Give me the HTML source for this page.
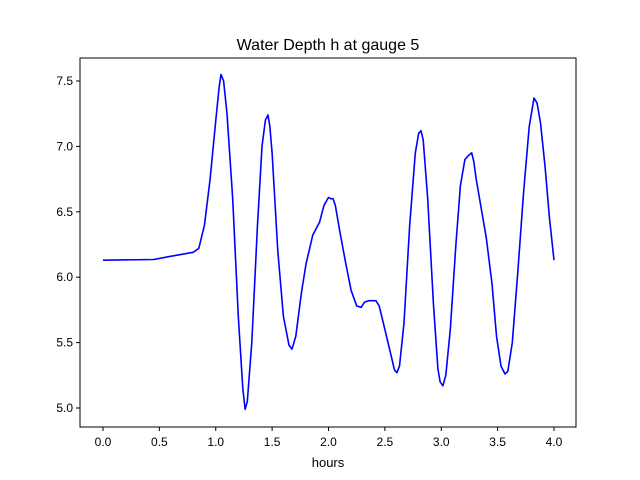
<!DOCTYPE html>
<html><head><meta charset="utf-8"><style>
body{margin:0;background:#fff;}
svg{display:block;font-family:"Liberation Sans","DejaVu Sans",sans-serif;}
</style></head><body>
<svg id="chart" width="640" height="480" viewBox="0 0 640 480">
<rect width="640" height="480" fill="#fff"/>
<text x="328" y="50" text-anchor="middle" font-size="16">Water Depth h at gauge 5</text>
<g id="plot"></g>
<rect x="80" y="58" width="496" height="369" fill="none" stroke="#000" stroke-width="1"/>
<text x="328" y="467" text-anchor="middle" font-size="13">hours</text>
</svg>
<script>
const hours=[0,0.45,0.6,0.7,0.8,0.85,0.9,0.95,1.0,1.03,1.047,1.07,1.1,1.15,1.2,1.24,1.26,1.28,1.32,1.37,1.41,1.44,1.463,1.48,1.5,1.55,1.6,1.65,1.676,1.71,1.76,1.8,1.86,1.92,1.96,2.0,2.02,2.04,2.06,2.1,2.15,2.2,2.25,2.29,2.32,2.36,2.42,2.45,2.5,2.55,2.585,2.607,2.63,2.67,2.72,2.77,2.8,2.82,2.84,2.88,2.93,2.97,2.99,3.015,3.04,3.08,3.13,3.17,3.21,3.24,3.27,3.29,3.31,3.36,3.4,3.45,3.49,3.53,3.565,3.59,3.63,3.68,3.73,3.78,3.823,3.85,3.88,3.92,3.96,4.0];
const depth=[6.13,6.135,6.16,6.175,6.19,6.22,6.4,6.75,7.2,7.45,7.55,7.5,7.25,6.6,5.7,5.15,4.99,5.05,5.5,6.4,7.0,7.2,7.24,7.15,6.95,6.2,5.7,5.48,5.45,5.55,5.88,6.1,6.32,6.42,6.55,6.61,6.6,6.6,6.55,6.35,6.12,5.9,5.78,5.77,5.81,5.82,5.82,5.78,5.6,5.42,5.29,5.27,5.32,5.65,6.4,6.95,7.1,7.12,7.05,6.6,5.8,5.3,5.2,5.17,5.25,5.6,6.25,6.7,6.9,6.93,6.95,6.88,6.75,6.5,6.3,5.95,5.55,5.32,5.26,5.28,5.5,6.05,6.65,7.15,7.37,7.33,7.18,6.85,6.45,6.13];
const xTicks=[0,0.5,1,1.5,2,2.5,3,3.5,4];
const yTicks=[5.0,5.5,6.0,6.5,7.0,7.5];
const xs=h=>103+h*112.75;
const ys=v=>408-(v-5)*130.8;
const ns="http://www.w3.org/2000/svg";
const g=document.getElementById('plot');
function mk(t,a){const e=document.createElementNS(ns,t);for(const k in a)e.setAttribute(k,a[k]);return e;}
xTicks.forEach(t=>{
  const l=mk('line',{x1:xs(t),x2:xs(t),y1:427,y2:431,stroke:'#000'});
  
  
  g.appendChild(l);
  const tx=mk('text',{x:xs(t),y:446,'text-anchor':'middle','font-size':'12'});
  
  
  tx.textContent=t.toFixed(1);g.appendChild(tx);
});
yTicks.forEach(t=>{
  const l=mk('line',{x1:76,x2:80,y1:ys(t),y2:ys(t),stroke:'#000'});
  
  
  g.appendChild(l);
  const tx=mk('text',{x:73,y:ys(t)+4,'text-anchor':'end','font-size':'12'});
  
  
  tx.textContent=t.toFixed(1);g.appendChild(tx);
});
const pts=hours.map((h,i)=>xs(h).toFixed(1)+','+ys(depth[i]).toFixed(1)).join(' ');
const pl=mk('polyline',{points:pts,fill:'none',stroke:'#0000ff','stroke-width':'1.6','stroke-linejoin':'round'});


g.appendChild(pl);
</script>
</body></html>
